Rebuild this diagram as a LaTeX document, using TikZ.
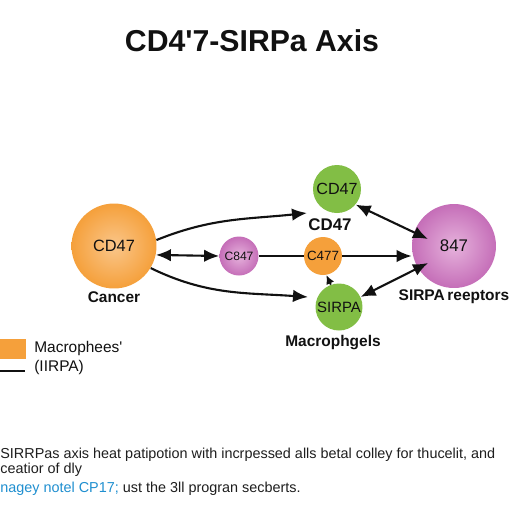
\documentclass[tikz,border=0pt]{standalone}
\usepackage{fontspec}
\setmainfont{Liberation Sans}
\usetikzlibrary{arrows.meta}
\definecolor{ink}{HTML}{111111}
\definecolor{amber}{HTML}{F5A03B}
\definecolor{lightamber}{HTML}{FAC68A}
\definecolor{plum}{HTML}{C56EB8}
\definecolor{lightplum}{HTML}{E6B2DC}
\definecolor{leaf}{HTML}{82BE45}
\definecolor{note}{HTML}{1F8FD0}
\definecolor{body}{HTML}{1E1E1E}
\tikzset{
  cell/.style={circle,inner sep=0pt,align=center,text=ink},
  ambercell/.style={cell,shading=radial,inner color=lightamber,outer color=amber},
  plumcell/.style={cell,shading=radial,inner color=lightplum,outer color=plum},
  leafcell/.style={cell,fill=leaf},
  lbl/.style={font=\fontsize{8.8}{10}\selectfont\bfseries,text=ink,inner sep=0pt},
  keytext/.style={anchor=west,inner sep=0pt,font=\fontsize{8.8}{10}\selectfont,text=ink},
  bodytext/.style={anchor=west,inner sep=0pt,font=\fontsize{8.2}{9}\selectfont,text=body},
  flow/.style={-{Latex[length=3mm,width=2.5mm]},draw=ink,line width=1.2pt},
  biflow/.style={{Latex[length=3mm,width=2.5mm]}-{Latex[length=3mm,width=2.5mm]},draw=ink,line width=1.2pt},
  link/.style={draw=ink,line width=1.2pt}}

\begin{document}
\begin{tikzpicture}[x=0.02cm,y=-0.02cm]
  \fill[white] (0,0) rectangle (512,512);
  \useasboundingbox (0,0) rectangle (512,512);
  \node[font=\fontsize{17.2}{19}\selectfont\bfseries,text=ink] (title) at (252,41) {CD4\textquotesingle7-SIRPa Axis};

  % cells
  \node[ambercell,minimum size=1.70cm,font=\fontsize{9.3}{10}\selectfont] (cancer) at (114,246) {CD47};
  \node[plumcell,minimum size=0.78cm,font=\fontsize{6.9}{8}\selectfont] (cpurple) at (239,256) {C847};
  \node[cell,fill=amber,minimum size=0.76cm,font=\fontsize{7.6}{8}\selectfont] (corange) at (323,256) {C477};
  \node[leafcell,minimum size=0.96cm,font=\fontsize{9.2}{10}\selectfont] (gtop) at (337,189) {CD47};
  \node[leafcell,minimum size=0.94cm,font=\fontsize{8.5}{10}\selectfont] (gbot) at (339,307) {SIRPA};
  \node[plumcell,minimum size=1.68cm,font=\fontsize{9.6}{10}\selectfont] (receptor) at (454,246) {847};

  \node[lbl] at (114,297) {Cancer};
  \node[lbl,font=\fontsize{9.6}{10}\selectfont\bfseries] at (330,225) {CD47};
  \node[lbl] at (333,343) {Macrophgels};
  \node[lbl] at (454,297) {SIRPA\,reeptors};

  % connectors
  \coordinate (tipA) at (307,213);
  \coordinate (tipB) at (308,297);
  \coordinate (hitA) at (428,239);
  \coordinate (hitB) at (428,263);
  \draw[flow] (cancer.8) to[out=22,in=186] (tipA);
  \draw[flow] (cancer.-31) to[out=-26,in=176] (tipB);
  \draw[biflow] (cancer.-12) -- (cpurple.west);
  \draw[link] (cpurple.east) -- (corange.west);
  \draw[flow] (corange.east) -- (corange.east -| receptor.west);
  \draw[biflow] (gtop.-40) -- (hitA);
  \draw[biflow] (gbot.25) -- (hitB);
  \draw[-{Latex[length=1.8mm,width=1.7mm]},draw=ink,line width=1pt] (gbot.110) -- (corange.-80);

  % key
  \node[fill=amber,minimum width=0.52cm,minimum height=0.40cm,inner sep=0pt,anchor=north west] (keybox) at (0,339) {};
  \node[keytext] (keyA) at (34,348) {Macrophees\textquotesingle};
  \coordinate (keyL) at (0,371);
  \coordinate (keyR) at (25,371);
  \draw[link] (keyL) -- (keyR);
  \node[keytext] (keyB) at (34,367) {(IIRPA)};

  % caption
  \node[bodytext] (line1) at (0,455) {SIRRPas axis heat patipotion with incrpessed alls betal colley for thucelit, and};
  \node[bodytext] (line2) at (0,470) {ceatior of dly};
  \node[bodytext] (line3) at (0,489) {\textcolor{note}{nagey notel CP17;} ust the 3ll progran secberts.};
\end{tikzpicture}
\end{document}
